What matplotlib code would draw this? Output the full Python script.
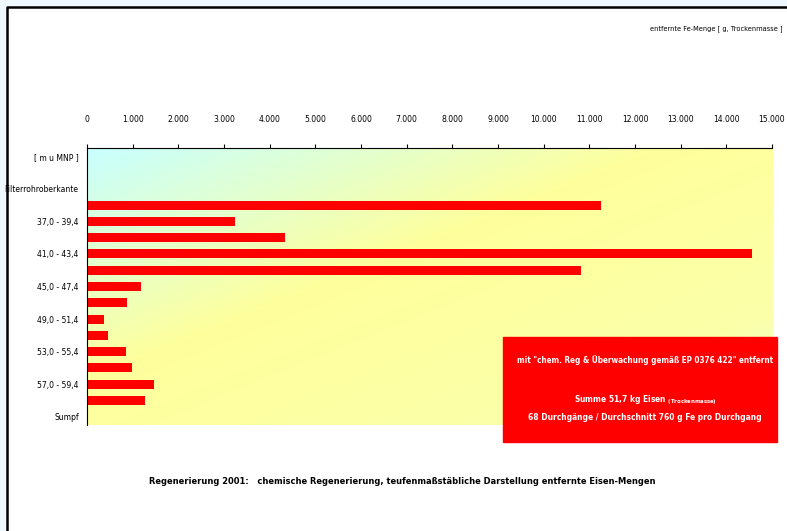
import numpy as np
import matplotlib.pyplot as plt
from matplotlib import font_manager as fm
from matplotlib.colors import LinearSegmentedColormap
from matplotlib.patches import Rectangle
from matplotlib.lines import Line2D

# depth intervals (top to bottom) and removed iron [g]
categories = ["[ m u MNP ]", "", "Filterrohroberkante",
              "35,0 - 37,4", "37,0 - 39,4", "39,0 - 41,4", "41,0 - 43,4",
              "43,0 - 45,4", "45,0 - 47,4", "47,0 - 49,4", "49,0 - 51,4",
              "51,0 - 53,4", "53,0 - 55,4", "55,0 - 57,4", "57,0 - 59,4",
              "59,0 - 61,4", "Sumpf"]
fe_mass = [0, 0, 0,
           11250, 3240, 4340, 14560, 10820, 1180, 880, 370,
           460, 850, 990, 1470, 1270, 0]
xticks = list(range(0, 15001, 1000))
xticklabels = ["0"] + ["{:,}".format(v).replace(",", ".") for v in xticks[1:]]

# excel used Arial Narrow - pick the narrowest font that is around
entries = fm.fontManager.ttflist
if any(f.name == 'Liberation Sans Narrow' for f in entries):
    plt.rcParams['font.family'] = ['Liberation Sans Narrow', 'DejaVu Sans']
    k = 1.0
elif any(f.name == 'DejaVu Sans' and f.stretch == 'condensed' for f in entries):
    plt.rcParams['font.family'] = ['DejaVu Sans']
    plt.rcParams['font.stretch'] = 'condensed'
    k = 0.78
else:
    plt.rcParams['font.family'] = ['Liberation Sans', 'DejaVu Sans']
    k = 0.72

fig = plt.figure(figsize=(7.87, 5.31), dpi=100)
fig.patch.set_facecolor('white')

# outer frame like the excel chart area (only left/top edge visible)
fig.add_artist(Rectangle((0, 1 - 6/531), 1, 6/531, transform=fig.transFigure,
                         facecolor='#f0f8ff', edgecolor='none', zorder=-3))
fig.add_artist(Rectangle((0, 0), 6/787, 1, transform=fig.transFigure,
                         facecolor='#f0f8ff', edgecolor='none', zorder=-3))
fig.add_artist(Line2D([6.5/787, 6.5/787, 1], [0, 1 - 6.5/531, 1 - 6.5/531],
                      transform=fig.transFigure, color='black', lw=1.8))

ax = fig.add_axes([87/787, 1 - 425/531, 685/787, 277/531])

# diagonal gradient background
n = 200
gx, gy = np.meshgrid(np.linspace(0, 1, n), np.linspace(0, 1, n))
t = 0.5 * gx + 0.5 * gy
cmap = LinearSegmentedColormap.from_list(
    'bg', [(0.0, '#c8ffff'), (0.42, '#ffff9c'), (0.8, '#fbffa8'), (1.0, '#e0ffe8')])
ax.imshow(t, cmap=cmap, extent=[0, 1, 0, 1], transform=ax.transAxes,
          aspect='auto', zorder=0)

y = np.arange(len(categories))
ax.barh(y, fe_mass, height=0.55, color='#ff0000', zorder=2)

ax.set_xlim(0, 15000)
ax.set_ylim(len(categories) - 0.5, -0.5)
ax.xaxis.tick_top()
ax.set_xticks(xticks)
ax.set_xticklabels(xticklabels, fontsize=7.8 * k)
ax.tick_params(axis='x', length=3, pad=14, color='black')
ax.set_yticks(y[::2])
ax.set_yticklabels(categories[::2], fontsize=7.8 * k)
ax.tick_params(axis='y', length=0, pad=6)
for s in ['right', 'bottom']:
    ax.spines[s].set_visible(False)
for s in ['top', 'left']:
    ax.spines[s].set_linewidth(0.8)

fig.text(783/787, 1 - 29/531, "entfernte Fe-Menge [ g, Trockenmasse ]",
         ha='right', va='center', fontsize=6.8 * k)

# red info box
fig.add_artist(Rectangle((503/787, 1 - 442/531), 274/787, 105/531,
                         transform=fig.transFigure, facecolor='#ff0000',
                         edgecolor='#ff0000', zorder=5))
fig.text(645/787, 1 - 360/531,
         'mit "chem. Reg & Überwachung gemäß EP 0376 422" entfernt',
         ha='center', va='center', fontsize=7.5 * k, color='white', weight='bold', zorder=6)
fig.text(645/787, 1 - 400/531, 'Summe 51,7 kg Eisen $\\mathregular{_{(Trockenmasse)}}$',
         ha='center', va='center', fontsize=7.7 * k, color='white', weight='bold', zorder=6)
fig.text(645/787, 1 - 418/531,
         '68 Durchgänge / Durchschnitt 760 g Fe pro Durchgang',
         ha='center', va='center', fontsize=7.7 * k, color='white', weight='bold', zorder=6)

fig.text(402/787, 1 - 481/531,
         "Regenerierung 2001:   chemische Regenerierung, teufenmaßstäbliche Darstellung entfernte Eisen-Mengen",
         ha='center', va='center', fontsize=8.6 * k, weight='bold')

fig.savefig('out.png', dpi=100)
